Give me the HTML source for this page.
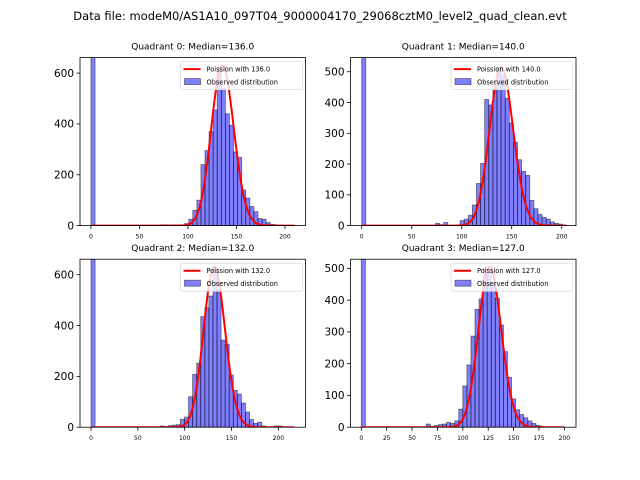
<!DOCTYPE html>
<html><head><meta charset="utf-8">
<style>
body{margin:0;background:#fff;}
svg{display:block;font-family:"DejaVu Sans","Liberation Sans",sans-serif;}
</style></head>
<body>
<svg id="fig" width="640" height="480" viewBox="0 0 640 480">
<rect width="640" height="480" fill="#fff"/>
<text x="320" y="20" font-size="11.5" text-anchor="middle">Data file: modeM0/AS1A10_097T04_9000004170_29068cztM0_level2_quad_clean.evt</text>
</svg>
<script>
// ---- data ----
const titles = ["Quadrant 0: Median=136.0","Quadrant 1: Median=140.0","Quadrant 2: Median=132.0","Quadrant 3: Median=127.0"];
const medians = [136.0, 140.0, 132.0, 127.0];
const binWidths = [4.2, 4.1, 4.34, 4.0];
const zeroBinCounts = [3000, 3000, 3000, 3000];
const startBins = [17, 18, 17, 16];
const q0Counts = [3,3,2,3,2,3,8,25,60,100,240,295,370,455,620,540,440,395,290,268,140,108,75,55,28,25,12,5,3];
const q1Counts = [7,3,10,0,0,0,16,21,34,67,137,202,410,392,446,515,490,414,333,271,214,176,163,82,55,36,27,21,12,7,5];
const q2Counts = [5,3,6,8,10,31,40,120,208,252,435,470,516,625,540,343,326,205,145,130,95,60,30,15,20,5,0,0,5,5];
const q3Counts = [10,3,5,8,10,15,12,20,57,130,196,287,371,404,500,485,448,406,322,238,157,89,55,40,30,20,12,6,3];
const peakHeights = [630, 515, 630, 505];
const curveEnds = [210, 205, 217, 200];
const xTicks = [[0,50,100,150,200],[0,50,100,150,200],[0,50,100,150,200],[0,25,50,75,100,125,150,175,200]];
const yTicks = [[0,200,400,600],[0,100,200,300,400,500],[0,200,400,600],[0,100,200,300,400,500]];
const xLims = [[-11.3,221.2],[-11.2,214.3],[-11.75,229.0],[-10.64,211.5]];
const yMaxes = [661, 546, 661, 529];
const allCounts = [q0Counts,q1Counts,q2Counts,q3Counts];

// ---- layout ----
const NS="http://www.w3.org/2000/svg";
const svg=document.getElementById('fig');
const lefts=[80,350.5,80,350.5], tops=[57.6,57.6,259.2,259.2], W=225.5, H=168;
function mk(tag,attrs,parent){const e=document.createElementNS(NS,tag);for(const k in attrs)e.setAttribute(k,attrs[k]);(parent||svg).appendChild(e);return e;}
function lgamma(z){
  if(z<7){let p=1;while(z<7){p*=z;z+=1;}return lgamma(z)-Math.log(p);}
  return (z-0.5)*Math.log(z)-z+0.5*Math.log(2*Math.PI)+1/(12*z)-1/(360*z*z*z)+1/(1260*Math.pow(z,5));
}
function logPmf(k,mu){return k*Math.log(mu)-mu-lgamma(k+1);}

for(let p=0;p<4;p++){
  const L=lefts[p],T=tops[p],xl=xLims[p],ym=yMaxes[p];
  const sx=v=>L+(v-xl[0])/(xl[1]-xl[0])*W;
  const sy=v=>T+H-v/ym*H;
  const g=mk('g',{});
  
  
  const cp=mk('clipPath',{id:'cp'+p},g);
  mk('rect',{x:L,y:T,width:W,height:H},cp);
  const plot=mk('g',{'clip-path':'url(#cp'+p+')'},g);
  const bw=binWidths[p];
  const zb=mk('rect',{x:sx(0),y:sy(zeroBinCounts[p]),width:sx(bw)-sx(0),height:sy(0)-sy(zeroBinCounts[p]),fill:'rgba(0,0,255,0.5)',stroke:'rgba(0,0,0,0.5)','stroke-width':0.8},plot);
  
  
  const cs=allCounts[p];
  for(let i=0;i<cs.length;i++){
    const c=cs[i]; if(c<=0) continue;
    const x0=(startBins[p]+i)*bw;
    const r=mk('rect',{x:sx(x0),y:sy(c),width:sx(x0+bw)-sx(x0),height:sy(0)-sy(c),fill:'rgba(0,0,255,0.5)',stroke:'rgba(0,0,0,0.5)','stroke-width':0.8},plot);
    
    
  }
  const mu=medians[p], pk=peakHeights[p], lmax=logPmf(Math.floor(mu),mu);
  let d='';
  for(let k=0;k<=curveEnds[p];k++){
    const v=pk*Math.exp(logPmf(k,mu)-lmax);
    d+=(k?'L':'M')+sx(k).toFixed(2)+','+sy(v).toFixed(2);
  }
  const pl=mk('path',{d:d,fill:'none',stroke:'#ff0000','stroke-width':2},plot);
  
  
  const fr=mk('rect',{x:L,y:T,width:W,height:H,fill:'none',stroke:'#000','stroke-width':0.8},g);
  
  
  for(const t of xTicks[p]){
    mk('line',{x1:sx(t),x2:sx(t),y1:T+H,y2:T+H+3.5,stroke:'#000','stroke-width':0.8},g);
    const tx=mk('text',{x:sx(t),y:T+H+13,'font-size':6,'text-anchor':'middle'},g);
    tx.textContent=t;
    
    
  }
  for(const t of yTicks[p]){
    mk('line',{x1:L-3.5,x2:L,y1:sy(t),y2:sy(t),stroke:'#000','stroke-width':0.8},g);
    const ty=mk('text',{x:L-6,y:sy(t)+3.8,'font-size':10.5,'text-anchor':'end'},g);
    ty.textContent=t;
    
    
  }
  const tt=mk('text',{x:L+W/2,y:T-8,'font-size':9,'text-anchor':'middle'},g);
  tt.textContent=titles[p];
  
  
  const lg=mk('g',{},g);
  
  
  const lx=L+W-125, ly=T+4;
  mk('rect',{x:lx,y:ly,width:122,height:28,fill:'rgba(255,255,255,0.8)',stroke:'#ddd','stroke-width':0.8,rx:2},lg);
  mk('line',{x1:lx+3,x2:lx+20,y1:ly+7.5,y2:ly+7.5,stroke:'#ff0000','stroke-width':2},lg);
  const l1=mk('text',{x:lx+26,y:ly+10,'font-size':6.6},lg);
  l1.textContent='Poission with '+medians[p].toFixed(1);
  
  
  mk('rect',{x:lx+4,y:ly+17,width:16,height:6,fill:'rgba(0,0,255,0.5)',stroke:'rgba(0,0,0,0.5)','stroke-width':0.8},lg);
  const l2=mk('text',{x:lx+26,y:ly+23,'font-size':6.6},lg);
  l2.textContent='Observed distribution';
  
  
}
</script>
</body></html>
